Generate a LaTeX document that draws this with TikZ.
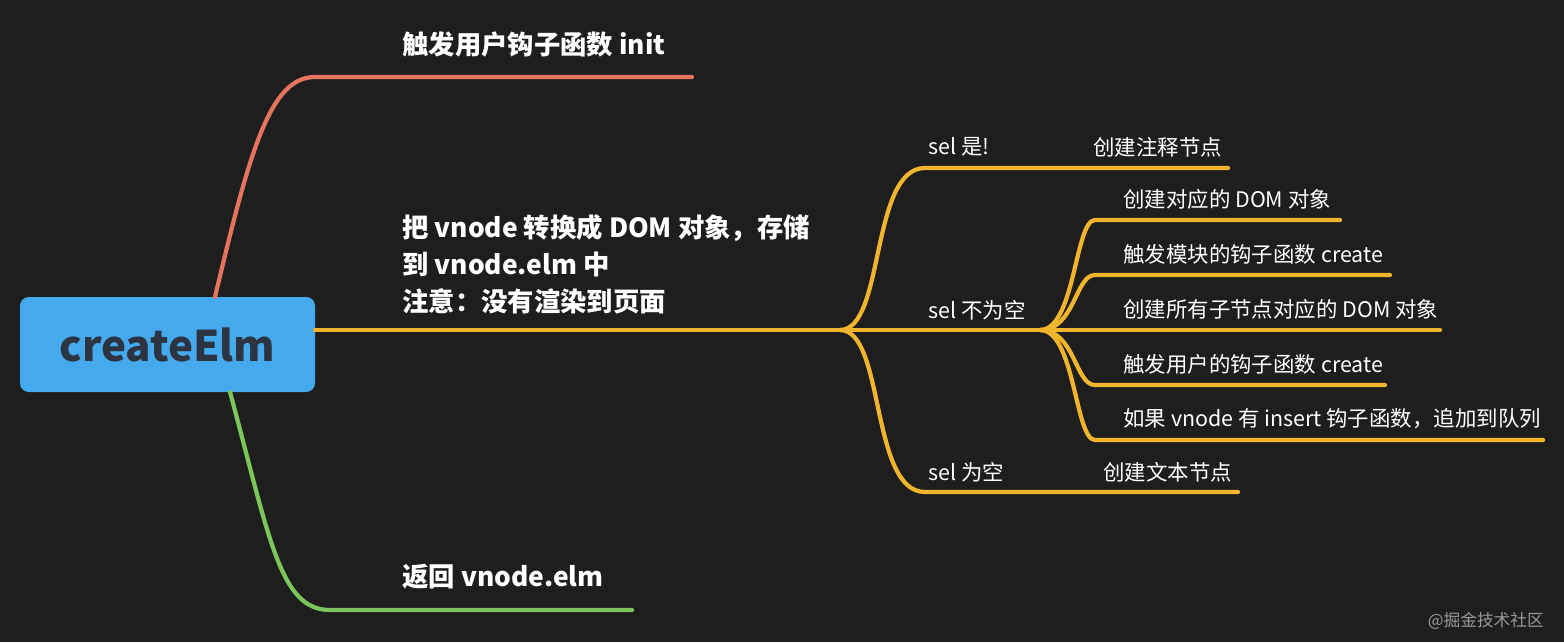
\documentclass[tikz,border=0pt]{standalone}
\usepackage{fontspec}
\setmainfont{Noto Sans CJK SC}
\usepackage{tikz}
\definecolor{bg}{HTML}{1E1E1E}
\definecolor{rootblue}{HTML}{45A9EE}
\definecolor{rootink}{HTML}{2B3440}
\definecolor{redline}{HTML}{E5735F}
\definecolor{orline}{HTML}{F0B52C}
\definecolor{grline}{HTML}{7CC55A}
\tikzset{
  lbl/.style={text=white,font=\bfseries\fontsize{15}{21}\selectfont,anchor=west,inner sep=0pt,align=left},
  sublbl/.style={text=white,font=\fontsize{12.2}{15}\selectfont,anchor=west,inner sep=0pt},
  br/.style={line width=2.4pt,line cap=round},
}
\begin{document}
\begin{tikzpicture}[x=0.02cm,y=-0.02cm]
\fill [bg] (0,0) rectangle (1564,642);
\node [fill=rootblue,rounded corners=5pt,minimum width=295*0.02cm,minimum height=95*0.02cm,
  text=rootink,font=\bfseries\fontsize{24}{28}\selectfont] (root) at(167.5,344.5){createElm};
% main branches
\coordinate (rA) at(215,297);
\coordinate (rB) at(315,330);
\coordinate (rC) at(230,392);
\coordinate (init) at(315,77);  \coordinate (initE) at(692,77);
\coordinate (elm) at(330,610);  \coordinate (elmE) at(632,610);
\coordinate (dom) at(840,330);
\draw [br,redline] (rA) .. controls (250,150) and (270,77) .. (init) -- (initE);
\draw [br,grline] (rC) .. controls (270,540) and (280,610) .. (elm) -- (elmE);
\draw [br,orline] (rB) -- (dom);
\node [lbl] (tinit) at(402,44){触发用户钩子函数 init};
\node [lbl,anchor=north west] (tdom) at(402,214){把 vnode 转换成 DOM 对象，存储\\到 vnode.elm 中\\注意：没有渲染到页面};
\node [lbl] (telm) at(402,577){返回 vnode.elm};
% sel cases
\coordinate (s1) at(925,168); \coordinate (s1E) at(1228,168);
\coordinate (s2) at(1040,330);
\coordinate (s3) at(925,492); \coordinate (s3E) at(1238,492);
\draw [br,orline] (dom) .. controls (885,330) and (870,168) .. (s1) -- (s1E);
\draw [br,orline] (dom) -- (s2);
\draw [br,orline] (dom) .. controls (885,330) and (870,492) .. (s3) -- (s3E);
\node [sublbl] (ts1) at(928,147){sel 是!};
\node [sublbl] (tc1) at(1093,147){创建注释节点};
\node [sublbl] (ts2) at(928,310){sel 不为空};
\node [sublbl] (ts3) at(928,472){sel 为空};
\node [sublbl] (tc3) at(1103,472){创建文本节点};
% children of sel 不为空
\foreach \y/\e/\t in {220/1340/创建对应的 DOM 对象,
                      275/1390/触发模块的钩子函数 create,
                      330/1440/创建所有子节点对应的 DOM 对象,
                      385/1385/触发用户的钩子函数 create,
                      440/1543/如果 vnode 有 insert 钩子函数，追加到队列}{
  \coordinate (c\y) at(1095,\y);
  \coordinate (e\y) at(\e,\y);
  \draw [br,orline] (s2) .. controls (1075,330) and (1075,\y) .. (c\y) -- (e\y);
  \node [sublbl] (t\y) at(1123,\y-21){\t};
}
\node [text=gray!80,font=\fontsize{9.5}{12}\selectfont,anchor=east] (wm) at(1550,621){@掘金技术社区};
\end{tikzpicture}
\end{document}
